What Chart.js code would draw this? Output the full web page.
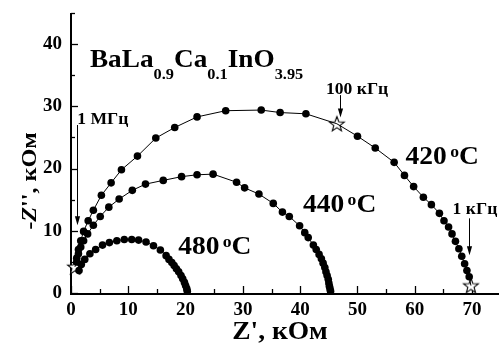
<!DOCTYPE html>
<html><head><meta charset="utf-8">
<script src="https://cdn.jsdelivr.net/npm/chart.js@4/dist/chart.umd.min.js"></script>
<style>html,body{margin:0;padding:0;background:#fff}#wrap{width:499px;height:349px;position:relative}</style>
</head><body><div id="wrap"><canvas id="c" width="499" height="349"></canvas></div>
<script>
// ---- data (kOhm) ----
const x420 = [0.7, 1.0, 1.3, 1.7, 2.2, 3.0, 3.9, 5.3, 7.0, 8.8, 11.6, 14.8, 18.1, 22.0, 27.0, 33.2, 36.5, 41.0, 46.4, 50.0, 53.1, 56.4, 58.2, 59.8, 61.5, 62.9, 64.3, 65.1, 65.9, 66.5, 67.1, 67.7, 68.2, 68.7, 69.1, 69.5, 69.8];
const y420 = [4.2, 5.6, 7.0, 8.4, 9.9, 11.6, 13.3, 15.7, 17.7, 19.8, 22.0, 24.9, 26.6, 28.3, 29.3, 29.4, 29.0, 28.8, 27.2, 25.2, 23.3, 21.0, 18.9, 17.1, 15.4, 14.2, 12.8, 11.6, 10.6, 9.5, 8.3, 7.1, 5.9, 4.7, 3.6, 2.6, 1.2];
const x440 = [1.0, 1.3, 1.7, 2.2, 2.9, 3.9, 5.1, 6.6, 8.4, 10.7, 13.0, 16.1, 19.3, 22.0, 24.8, 28.9, 30.3, 32.8, 35.3, 36.9, 38.1, 39.9, 40.8, 41.4, 42.3, 42.8, 43.3, 43.7, 44.0, 44.3, 44.5, 44.7, 44.9, 45.0, 45.1, 45.2, 45.3];
const y440 = [5.0, 6.3, 7.4, 8.4, 9.5, 10.9, 12.3, 13.8, 15.1, 16.5, 17.5, 18.1, 18.7, 19.0, 19.1, 17.8, 16.9, 15.9, 14.4, 13.0, 12.3, 10.8, 9.7, 8.9, 7.7, 7.0, 6.2, 5.5, 4.8, 4.1, 3.4, 2.8, 2.2, 1.6, 1.1, 0.7, 0.3];
const x480 = [1.4, 1.8, 2.4, 3.3, 4.3, 5.5, 6.7, 8.0, 9.3, 10.6, 11.8, 13.1, 14.4, 15.6, 16.6, 17.1, 17.6, 18.0, 18.4, 18.8, 19.2, 19.5, 19.8, 20.0, 20.2, 20.3];
const y480 = [3.6, 4.6, 5.4, 6.3, 7.0, 7.7, 8.1, 8.4, 8.6, 8.6, 8.5, 8.2, 7.6, 6.9, 6.0, 5.4, 4.9, 4.4, 3.9, 3.4, 2.8, 2.3, 1.7, 1.2, 0.7, 0.3];
const starX = [0.7, 46.4, 69.8];
const starY = [4.2, 27.2, 1.2];
const seriesNames = ['420 °C', '440 °C', '480 °C'];
const xTickValues = [0, 10, 20, 30, 40, 50, 60, 70];
const yTickValues = [0, 10, 20, 30, 40];
const freqLabels = ['1 МГц', '100 кГц', '1 кГц'];
const titleParts = ['BaLa', '0.9', 'Ca', '0.1', 'InO', '3.95'];
const xTitle = "Z', кОм";
const yTitle = "-Z'', кОм";

// ---- annotation placement (data coordinates) ----
const tempPos = [[58.4, 20.8], [40.5, 13.0], [18.7, 6.33]];
const freqPos = [[1.1, 27.2], [44.5, 32.06], [66.6, 12.77]];
const arrowDefs = [[1.13, 27.0, 10.9], [46.9, 31.8, 28.2], [69.45, 12.0, 6.06]];
const titlePos = [3.3, 36.3];

const FONT = '"Liberation Serif", "Times New Roman", serif';
const SX = 1.1;

function makeStar(r) {
  const s = Math.ceil(r * 2 + 4);
  const c = document.createElement('canvas'); c.width = s; c.height = s;
  const g = c.getContext('2d');
  g.translate(s / 2, s / 2 + 0.6);
  g.beginPath();
  for (let i = 0; i < 10; i++) {
    const rr = i % 2 ? r * 0.42 : r;
    const a = -Math.PI / 2 + i * Math.PI / 5;
    g.lineTo(rr * Math.cos(a), rr * Math.sin(a));
  }
  g.closePath();
  g.fillStyle = '#fff'; g.fill();
  g.lineWidth = 1.1; g.strokeStyle = '#000'; g.lineJoin = 'miter'; g.stroke();
  return c;
}
const starImg = makeStar(7.8);

function isStar(x, y) {
  for (let i = 0; i < starX.length; i++) if (starX[i] === x && starY[i] === y) return true;
  return false;
}
function pts(xs, ys) { return xs.map((x, i) => ({x: x, y: ys[i]})); }

function lineDs(xs, ys, name) {
  return {
    label: name, data: pts(xs, ys), showLine: true,
    borderColor: '#000', borderWidth: 1, backgroundColor: '#000',
    pointBackgroundColor: '#000', pointBorderWidth: 0,
    pointRadius: ctx => { const p = ctx.raw; return p && isStar(p.x, p.y) ? 0 : 3.8; },
    pointHoverRadius: 3.8, tension: 0, clip: false
  };
}

function rich(ctx, segs, x, y, sx) {
  ctx.save(); ctx.translate(x, y); ctx.scale(sx, 1);
  ctx.textAlign = 'left'; ctx.textBaseline = 'alphabetic'; ctx.fillStyle = '#000';
  let cx = 0;
  for (const s of segs) {
    ctx.font = (s.italic ? 'italic ' : '') + 'bold ' + s.size + 'px ' + FONT;
    cx += (s.gap || 0);
    ctx.fillText(s.t, cx, s.dy || 0);
    cx += ctx.measureText(s.t).width;
  }
  ctx.restore();
}
function richWidth(ctx, segs, sx) {
  let w = 0;
  ctx.save();
  for (const s of segs) {
    ctx.font = (s.italic ? 'italic ' : '') + 'bold ' + s.size + 'px ' + FONT;
    w += (s.gap || 0) + ctx.measureText(s.t).width;
  }
  ctx.restore();
  return w * sx;
}

function zeroPad(s) { s.paddingTop = 0; s.paddingBottom = 0; s.paddingLeft = 0; s.paddingRight = 0; }

const decor = {
  id: 'decor',
  beforeDatasetsDraw(chart) {
    const {ctx, chartArea: a, scales: {x, y}} = chart;
    ctx.save();
    ctx.strokeStyle = '#000';
    ctx.lineWidth = 2;
    ctx.beginPath();
    ctx.moveTo(a.left, a.top); ctx.lineTo(a.left, a.bottom + 1); ctx.lineTo(a.right, a.bottom + 1);
    ctx.stroke();
    ctx.lineWidth = 1.3;
    x.ticks.forEach(t => {
      if (t.value > x.max) return;
      const px = Math.round(x.getPixelForValue(t.value)) + 0.5;
      const len = t.value % 10 === 0 ? 7 : 4;
      ctx.beginPath(); ctx.moveTo(px, a.bottom); ctx.lineTo(px, a.bottom - len); ctx.stroke();
    });
    y.ticks.forEach(t => {
      const py = Math.round(y.getPixelForValue(t.value)) + 0.5;
      const len = t.value % 10 === 0 ? 7 : 4;
      ctx.beginPath(); ctx.moveTo(a.left, py); ctx.lineTo(a.left + len, py); ctx.stroke();
    });
    ctx.restore();
  },
  afterDatasetsDraw(chart) {
    const {ctx, scales: {x, y}} = chart;
    ctx.save();
    ctx.strokeStyle = '#000'; ctx.fillStyle = '#000'; ctx.lineWidth = 1;
    arrowDefs.forEach(([ax, y0, y1]) => {
      const px = Math.round(x.getPixelForValue(ax)) + 0.5;
      const p0 = y.getPixelForValue(y0), p1 = y.getPixelForValue(y1);
      ctx.beginPath(); ctx.moveTo(px, p0); ctx.lineTo(px, p1 - 7); ctx.stroke();
      ctx.beginPath(); ctx.moveTo(px - 2.6, p1 - 9); ctx.lineTo(px + 2.6, p1 - 9); ctx.lineTo(px, p1); ctx.closePath(); ctx.fill();
    });
    const tp = [
      {t: titleParts[0], size: 25}, {t: titleParts[1], size: 15, dy: 11.5},
      {t: titleParts[2], size: 25}, {t: titleParts[3], size: 15, dy: 11.5},
      {t: titleParts[4], size: 25}, {t: titleParts[5], size: 15, dy: 11.5}
    ];
    rich(ctx, tp, x.getPixelForValue(titlePos[0]), y.getPixelForValue(titlePos[1]), 1.09);
    seriesNames.forEach((nm, i) => {
      const num = nm.split(' ')[0];
      const segs = [{t: num, size: 25}, {t: 'o', size: 16, dy: -7, gap: 3}, {t: 'C', size: 25}];
      rich(ctx, segs, x.getPixelForValue(tempPos[i][0]), y.getPixelForValue(tempPos[i][1]), SX);
    });
    freqLabels.forEach((t, i) => {
      rich(ctx, [{t: t, size: 16}], x.getPixelForValue(freqPos[i][0]), y.getPixelForValue(freqPos[i][1]), SX);
    });
    const xs = [{t: xTitle, size: 25}];
    const w = richWidth(ctx, xs, SX);
    rich(ctx, xs, 280 - w / 2, 338.5, SX);
    const ys = [{t: '-', size: 22}, {t: 'Z', size: 22, italic: true}, {t: yTitle.slice(2), size: 22}];
    const wy = richWidth(ctx, ys, SX);
    ctx.save(); ctx.translate(36, 181); ctx.rotate(-Math.PI / 2);
    rich(ctx, ys, -wy / 2, 0, SX);
    ctx.restore();
    ctx.restore();
  }
};

const tickFont = {family: FONT, weight: 'bold', size: 19};
new Chart(document.getElementById('c'), {
  type: 'scatter',
  data: {
    datasets: [
      lineDs(x420, y420, seriesNames[0]),
      lineDs(x440, y440, seriesNames[1]),
      lineDs(x480, y480, seriesNames[2]),
      {label: 'freq', data: pts(starX, starY), pointStyle: starImg, pointRadius: 8, showLine: false, clip: false}
    ]
  },
  options: {
    responsive: false, animation: false, devicePixelRatio: 1,
    layout: {autoPadding: false, padding: {left: 0, right: 0, top: 13, bottom: 0}},
    plugins: {legend: {display: false}, tooltip: {enabled: false}, title: {display: false}},
    scales: {
      x: {
        type: 'linear', min: 0, max: 74.7, position: 'bottom',
        afterFit: s => { s.height = 56; zeroPad(s); },
        grid: {display: false, drawTicks: false}, border: {display: false},
        ticks: {stepSize: 5, includeBounds: false, autoSkip: false, maxRotation: 0, padding: 6, color: '#000', font: tickFont,
          callback: v => xTickValues.includes(v) ? String(v) : ''}
      },
      y: {
        type: 'linear', min: 0, max: 45, position: 'left',
        afterFit: s => { s.width = 71; zeroPad(s); },
        grid: {display: false, drawTicks: false}, border: {display: false},
        ticks: {stepSize: 5, includeBounds: false, autoSkip: false, padding: 9, color: '#000', font: tickFont,
          callback: v => yTickValues.includes(v) ? String(v) : ''}
      }
    }
  },
  plugins: [decor]
});
</script>
</body></html>
